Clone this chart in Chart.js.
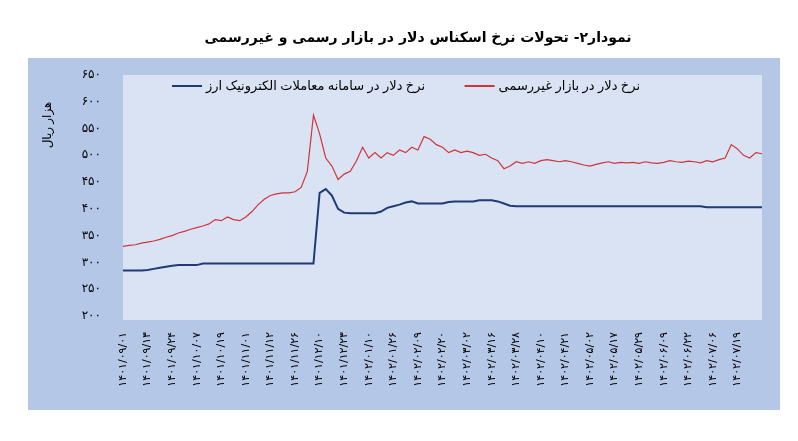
<!DOCTYPE html>
<html><head><meta charset="utf-8">
<script src="https://cdn.jsdelivr.net/npm/chart.js@4"></script>
<style>html,body{margin:0;padding:0;background:#fff}canvas{display:block}</style>
</head><body>
<div style="width:798px;height:441px"><canvas id="c"></canvas></div>
<script>
const tickLabels = ["۱۴۰۱/۰۹/۰۱","۱۴۰۱/۰۹/۱۳","۱۴۰۱/۰۹/۲۴","۱۴۰۱/۱۰/۰۷","۱۴۰۱/۱۰/۱۹","۱۴۰۱/۱۱/۰۱","۱۴۰۱/۱۱/۱۲","۱۴۰۱/۱۱/۲۶","۱۴۰۱/۱۲/۱۰","۱۴۰۱/۱۲/۲۳","۱۴۰۲/۰۱/۱۰","۱۴۰۲/۰۱/۲۶","۱۴۰۲/۰۲/۰۹","۱۴۰۲/۰۲/۲۰","۱۴۰۲/۰۳/۰۲","۱۴۰۲/۰۳/۱۶","۱۴۰۲/۰۳/۲۸","۱۴۰۲/۰۴/۱۰","۱۴۰۲/۰۴/۲۱","۱۴۰۲/۰۵/۰۲","۱۴۰۲/۰۵/۱۷","۱۴۰۲/۰۵/۲۹","۱۴۰۲/۰۶/۰۹","۱۴۰۲/۰۶/۲۲","۱۴۰۲/۰۷/۰۶","۱۴۰۲/۰۷/۱۹"];
const official = [285,285,285,285,286,288,290,292,294,295,295,295,295,298,298,298,298,298,298,298,298,298,298,298,298,298,298,298,298,298,298,298,
430,437,425,400,393,392,392,392,392,392,395,402,405,408,412,414,410,410,410,410,410,413,414,414,414,414,416,416,416,414,410,406,
405,405,405,405,405,405,405,405,405,405,405,405,405,405,405,405,405,405,405,405,405,405,405,405,405,405,405,405,405,405,405,
403,403,403,403,403,403,403,403,403,403];
const market = [330,332,333,336,338,340,343,347,350,355,358,362,365,368,372,380,378,385,380,378,385,395,408,418,425,428,430,430,432,440,470,575,
540,495,480,455,465,470,490,515,495,505,495,505,500,510,505,515,510,535,530,520,515,505,510,505,508,505,500,502,495,490,475,480,
488,485,488,485,490,492,490,488,490,488,485,482,480,483,486,488,485,487,486,487,485,488,486,485,487,490,488,487,489,488,486,
490,488,492,495,520,512,500,495,505,503];
const labels = official.map((_, i) => i % 4 === 0 ? (tickLabels[i / 4] || "") : "");
const seriesNames = ["نرخ دلار در بازار غیررسمی", "نرخ دلار در سامانه معاملات الکترونیک ارز"];
const fa = n => String(n).replace(/\d/g, d => "۰۱۲۳۴۵۶۷۸۹"[d]);

const deco = {
  id: 'deco',
  beforeDraw(ch) {
    const c = ch.ctx, a = ch.chartArea;
    c.save();
    c.fillStyle = '#fff'; c.fillRect(0, 0, ch.width, ch.height);
    c.fillStyle = '#b4c7e7'; c.fillRect(28, 58, 752, 352);
    c.fillStyle = '#dae3f3'; c.fillRect(a.left, a.top, a.right - a.left, a.bottom - a.top + 4);
    c.restore();
  },
  afterDraw(ch) {
    const c = ch.ctx;
    c.save();
    c.fillStyle = '#000'; c.textBaseline = 'middle';
    c.font = 'bold 14px "DejaVu Sans", sans-serif';
    c.textAlign = 'center'; c.direction = 'rtl';
    c.fillText("نمودار۲- تحولات نرخ اسکناس دلار در بازار رسمی و غیررسمی", 418, 38);
    c.font = '13px "Noto Sans", "DejaVu Sans", sans-serif';
    const items = [[640, '#d0343a', seriesNames[0]], [425, '#1f3a75', seriesNames[1]]];
    items.forEach(([xr, col, txt]) => {
      c.textAlign = 'right'; c.fillStyle = '#000';
      c.fillText(txt, xr, 86);
      const w = c.measureText(txt).width;
      c.strokeStyle = col; c.lineWidth = 2;
      c.beginPath(); c.moveTo(xr - w - 34, 86); c.lineTo(xr - w - 4, 86); c.stroke();
    });
    c.translate(48, 125); c.rotate(-Math.PI / 2);
    c.textAlign = 'center'; c.font = '12px "Noto Sans", "DejaVu Sans", sans-serif';
    c.fillText("هزار ریال", 0, 0);
    c.restore();
  }
};

new Chart(document.getElementById('c'), {
  type: 'line',
  data: { labels, datasets: [
    { label: seriesNames[0], data: market, borderColor: '#d0343a', borderWidth: 1.2, pointRadius: 0, tension: 0 },
    { label: seriesNames[1], data: official, borderColor: '#1f3a75', borderWidth: 2, pointRadius: 0, tension: 0 }
  ]},
  options: {
    responsive: true, maintainAspectRatio: false, animation: false,
    layout: { padding: { left: 28, right: 36, top: 75, bottom: 0 } },
    plugins: { legend: { display: false }, tooltip: { enabled: false } },
    scales: {
      x: { grid: { display: false }, border: { display: false },
        afterFit: s => { s.height = 125; },
        ticks: { autoSkip: false, maxRotation: 90, minRotation: 90, color: '#000',
          font: { size: 11, family: '"DejaVu Sans", sans-serif' }, padding: 8 } },
      y: { min: 200, max: 650, grid: { display: false }, border: { display: false },
        afterFit: s => { s.width = 95; },
        ticks: { stepSize: 50, color: '#000', padding: 14, callback: v => fa(v),
          font: { size: 12, family: '"DejaVu Sans", sans-serif' } } }
    }
  },
  plugins: [deco]
});
</script>
</body></html>
